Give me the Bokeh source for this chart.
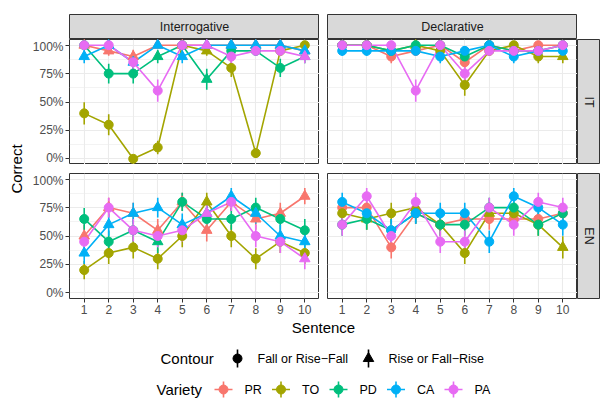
import math
from bokeh.plotting import figure
from bokeh.layouts import row, column
from bokeh.models import Range1d, FixedTicker, PrintfTickFormatter, Spacer, ColumnDataSource
from bokeh.core.properties import value
from bokeh.embed import file_html
from bokeh.resources import INLINE

# ---------------- data ----------------
SENTENCES = list(range(1, 11))
VARIETIES = ["PR", "TO", "PD", "CA", "PA"]
COLORS = ["#F8766D", "#A3A500", "#00BF7D", "#00B0F6", "#E76BF3"]
SENTENCE_TYPES = ["Interrogative", "Declarative"]
LANGUAGES = ["IT", "EN"]
CONTOUR_LABELS = ["Fall or Rise\u2212Fall", "Rise or Fall\u2212Rise"]
CONTOUR_CODES = ["F", "R"]
N_RESP = 25  # responses per cell, used for standard-error bars

# percent correct, per sentence 1..10 ; contour code per sentence (F = fall, R = rise)
IT_INT_PR = [100, 95, 90, 100, 100, 100, 100, 100, 100, 95]
IT_INT_PR_C = "RRRRRRRRRR"
IT_INT_TO = [40, 30, 0, 10, 100, 95, 80, 5, 95, 100]
IT_INT_TO_C = "FFFFFRFFFF"
IT_INT_PD = [100, 75, 75, 90, 100, 70, 95, 95, 80, 90]
IT_INT_PD_C = "FFFRFRFFFR"
IT_INT_CA = [90, 100, 85, 100, 90, 100, 100, 100, 100, 95]
IT_INT_CA_C = "RRRRRRRRRR"
IT_INT_PA = [100, 100, 85, 60, 100, 100, 90, 95, 95, 90]
IT_INT_PA_C = "FFFFFRFFFR"

IT_DEC_PR = [100, 100, 90, 95, 100, 85, 100, 95, 100, 100]
IT_DEC_PR_C = "FFFFFFFFFF"
IT_DEC_TO = [100, 100, 95, 100, 95, 65, 95, 100, 90, 90]
IT_DEC_TO_C = "FFFRFFFFFR"
IT_DEC_PD = [100, 100, 95, 100, 100, 90, 100, 95, 95, 100]
IT_DEC_PD_C = "FFFFFFFFFF"
IT_DEC_CA = [95, 95, 95, 95, 90, 95, 100, 90, 95, 95]
IT_DEC_CA_C = "FFFFFFFFFF"
IT_DEC_PA = [100, 100, 100, 60, 100, 75, 95, 95, 95, 100]
IT_DEC_PA_C = "FFFFFFFFFF"

EN_INT_PR = [50, 75, 70, 55, 80, 55, 80, 65, 70, 85]
EN_INT_PR_C = "RRRRRRRRRR"
EN_INT_TO = [20, 35, 40, 30, 50, 80, 50, 30, 45, 35]
EN_INT_TO_C = "FFFFFRFFFF"
EN_INT_PD = [65, 45, 55, 45, 80, 65, 65, 75, 65, 55]
EN_INT_PD_C = "FFFRFFFFFF"
EN_INT_CA = [35, 60, 70, 75, 60, 70, 85, 70, 50, 45]
EN_INT_CA_C = "RRRRRRRRRR"
EN_INT_PA = [45, 75, 55, 50, 55, 70, 80, 50, 45, 30]
EN_INT_PA_C = "FFFFFRFFFR"

EN_DEC_PR = [75, 75, 40, 70, 60, 65, 65, 65, 65, 70]
EN_DEC_PR_C = "FFFFFFFFFF"
EN_DEC_TO = [70, 65, 70, 75, 60, 35, 70, 70, 60, 40]
EN_DEC_TO_C = "FRFRFFRFFR"
EN_DEC_PD = [60, 65, 55, 70, 60, 60, 75, 75, 60, 70]
EN_DEC_PD_C = "FFFFFFFFFF"
EN_DEC_CA = [80, 70, 55, 70, 70, 70, 45, 85, 75, 60]
EN_DEC_CA_C = "FFFFFFFFFF"
EN_DEC_PA = [60, 85, 50, 80, 45, 45, 75, 60, 80, 75]
EN_DEC_PA_C = "FFFFFFFFFF"

PANELS = {
    ("IT", "Interrogative"): [(IT_INT_PR, IT_INT_PR_C), (IT_INT_TO, IT_INT_TO_C), (IT_INT_PD, IT_INT_PD_C),
                              (IT_INT_CA, IT_INT_CA_C), (IT_INT_PA, IT_INT_PA_C)],
    ("IT", "Declarative"): [(IT_DEC_PR, IT_DEC_PR_C), (IT_DEC_TO, IT_DEC_TO_C), (IT_DEC_PD, IT_DEC_PD_C),
                            (IT_DEC_CA, IT_DEC_CA_C), (IT_DEC_PA, IT_DEC_PA_C)],
    ("EN", "Interrogative"): [(EN_INT_PR, EN_INT_PR_C), (EN_INT_TO, EN_INT_TO_C), (EN_INT_PD, EN_INT_PD_C),
                              (EN_INT_CA, EN_INT_CA_C), (EN_INT_PA, EN_INT_PA_C)],
    ("EN", "Declarative"): [(EN_DEC_PR, EN_DEC_PR_C), (EN_DEC_TO, EN_DEC_TO_C), (EN_DEC_PD, EN_DEC_PD_C),
                            (EN_DEC_CA, EN_DEC_CA_C), (EN_DEC_PA, EN_DEC_PA_C)],
}

Y_TICKS = [0, 25, 50, 75, 100]
Y_MINOR = [12.5, 37.5, 62.5, 87.5]

# ---------------- style ----------------
FONT_NAME = "Liberation Sans"
FONT = value(FONT_NAME)
MARKER = {"F": "circle", "R": "triangle"}
MSIZE = {"F": 9, "R": 10.5}
LW = 1.6
GRID = "#EBEBEB"
BORDER = "#333333"
STRIP_FILL = "#D9D9D9"
FRAME_W, FRAME_H = 250, 125
GAP_X, GAP_Y = 8, 9
LEFT_AXIS = 45
LABEL_COL = 24
STRIP_W = 23
STRIP_H = 25
TOP_PAD = 14
BOTTOM_AXIS = 22


def bare(width, height, xr, yr, **kw):
    p = figure(width=width, height=height, x_range=xr, y_range=yr, output_backend="svg",
               toolbar_location=None, x_axis_type=None, y_axis_type=None,
               min_border_left=0, min_border_right=0, min_border_top=0, min_border_bottom=0, **kw)
    p.grid.visible = False
    p.outline_line_color = None
    return p


def panel(key, show_x, show_y):
    width = FRAME_W + (LEFT_AXIS if show_y else GAP_X)
    height = FRAME_H + (BOTTOM_AXIS if show_x else 0)
    p = figure(width=width, height=height, x_range=Range1d(0.4, 10.6), y_range=Range1d(-5, 105),
               output_backend="svg", toolbar_location=None,
               min_border_left=(LEFT_AXIS if show_y else GAP_X), min_border_right=0,
               min_border_top=0, min_border_bottom=(BOTTOM_AXIS if show_x else 0))
    p.outline_line_color = BORDER
    p.outline_line_width = 1
    p.background_fill_color = "white"
    xt = FixedTicker(ticks=SENTENCES)
    yt = FixedTicker(ticks=Y_TICKS, minor_ticks=Y_MINOR)
    p.xaxis.ticker = xt
    p.yaxis.ticker = yt
    p.xgrid.ticker = xt
    p.ygrid.ticker = yt
    p.grid.grid_line_color = GRID
    p.grid.grid_line_width = 1.1
    p.ygrid.minor_grid_line_color = GRID
    p.ygrid.minor_grid_line_width = 0.6
    p.yaxis.formatter = PrintfTickFormatter(format="%d%%")
    for ax in (p.xaxis, p.yaxis):
        ax.axis_line_color = None
        ax.major_tick_line_color = BORDER
        ax.major_tick_in = 0
        ax.major_tick_out = 4
        ax.minor_tick_line_color = None
        ax.major_label_text_font = FONT_NAME
        ax.major_label_text_font_size = "12px"
        ax.major_label_text_color = "#4D4D4D"
        ax.major_label_standoff = 2
    p.xaxis.visible = show_x
    p.yaxis.visible = show_y

    sources = []
    for (vals, codes) in PANELS[key]:
        codes = list(codes)
        se = [100 * math.sqrt((v / 100) * (1 - v / 100) / N_RESP) for v in vals]
        sources.append(ColumnDataSource(dict(
            x=SENTENCES, y=vals,
            lo=[max(0, v - s) for v, s in zip(vals, se)],
            hi=[min(100, v + s) for v, s in zip(vals, se)],
            marker=[MARKER[c] for c in codes],
            size=[MSIZE[c] for c in codes],
        )))
    for src, col in zip(sources, COLORS):
        p.line("x", "y", source=src, line_color=col, line_width=LW)
    for src, col in zip(sources, COLORS):
        p.segment(x0="x", y0="lo", x1="x", y1="hi", source=src, line_color=col, line_width=LW)
    for src, col in zip(sources, COLORS):
        p.scatter("x", "y", source=src, marker="marker", size="size", fill_color=col, line_color=col)
    return p


def strip_top(text, left):
    p = bare(FRAME_W + left, STRIP_H + TOP_PAD, Range1d(0, 1), Range1d(0, 1))
    p.min_border_top = TOP_PAD
    p.min_border_left = left
    p.background_fill_color = STRIP_FILL
    p.outline_line_color = BORDER
    p.text(x=[0.5], y=[0.5], text=[text], text_align="center", text_baseline="middle",
           text_font=FONT, text_font_size="12.5px", text_color="#1A1A1A")
    return p


def strip_right(text, bottom):
    p = bare(STRIP_W, FRAME_H + bottom, Range1d(0, 1), Range1d(0, 1))
    p.min_border_bottom = bottom
    p.background_fill_color = STRIP_FILL
    p.outline_line_color = BORDER
    p.text(x=[0.5], y=[0.5], text=[text], angle=-math.pi / 2, text_align="center",
           text_baseline="middle", text_font=FONT, text_font_size="12.5px", text_color="#1A1A1A")
    return p


# ---------------- layout ----------------
tl = panel(("IT", "Interrogative"), show_x=False, show_y=True)
tr = panel(("IT", "Declarative"), show_x=False, show_y=False)
bl = panel(("EN", "Interrogative"), show_x=True, show_y=True)
br = panel(("EN", "Declarative"), show_x=True, show_y=False)

s_int = strip_top(SENTENCE_TYPES[0], 0)
s_dec = strip_top(SENTENCE_TYPES[1], GAP_X)
s_it = strip_right(LANGUAGES[0], 0)
s_en = strip_right(LANGUAGES[1], BOTTOM_AXIS)

body_h = FRAME_H * 2 + GAP_Y + BOTTOM_AXIS
ylab = bare(LABEL_COL, body_h, Range1d(0, LABEL_COL), Range1d(body_h, 0))
ylab.text(x=[LABEL_COL / 2 + 4], y=[(2 * FRAME_H + GAP_Y) / 2], text=["Correct"], angle=math.pi / 2,
          text_align="center", text_baseline="middle", text_font=FONT, text_font_size="15px",
          text_color="black")

top_h = STRIP_H + TOP_PAD
leg_h = 398 - top_h - body_h
leg = bare(600, leg_h, Range1d(0, 600), Range1d(leg_h, 0))
frame_left = LABEL_COL + LEFT_AXIS
frame_right = frame_left + 2 * FRAME_W + GAP_X
leg.text(x=[(frame_left + frame_right) / 2], y=[7], text=["Sentence"], text_align="center",
         text_baseline="middle", text_font=FONT, text_font_size="15px", text_color="black")

# contour legend
CY = 38
leg.text(x=[160], y=[CY], text=["Contour"], text_align="left", text_baseline="middle",
         text_font=FONT, text_font_size="15px", text_color="black")
ckx = [237, 368]
leg.segment(x0=ckx, y0=[CY - 9] * 2, x1=ckx, y1=[CY + 9] * 2, line_color="black", line_width=LW)
leg.scatter(x=ckx, y=[CY] * 2, marker=[MARKER[c] for c in CONTOUR_CODES],
            size=[MSIZE[c] for c in CONTOUR_CODES], color="black")
leg.text(x=[k + 20 for k in ckx], y=[CY] * 2, text=CONTOUR_LABELS, text_align="left",
         text_baseline="middle", text_font=FONT, text_font_size="12.5px", text_color="black")

# variety legend
VY = 69
leg.text(x=[156], y=[VY], text=["Variety"], text_align="left", text_baseline="middle",
         text_font=FONT, text_font_size="15px", text_color="black")
vkx = [223 + 57.5 * i for i in range(len(VARIETIES))]
leg.segment(x0=[k - 9 for k in vkx], y0=[VY] * 5, x1=[k + 9 for k in vkx], y1=[VY] * 5,
            line_color=COLORS, line_width=LW)
leg.segment(x0=vkx, y0=[VY - 8] * 5, x1=vkx, y1=[VY + 8] * 5, line_color=COLORS, line_width=LW)
leg.scatter(x=vkx, y=[VY] * 5, marker="circle", size=9, color=COLORS)
leg.text(x=[k + 21 for k in vkx], y=[VY] * 5, text=VARIETIES, text_align="left",
         text_baseline="middle", text_font=FONT, text_font_size="12.5px", text_color="black")

layout = column(
    row(Spacer(width=LABEL_COL + LEFT_AXIS, height=top_h), s_int, s_dec),
    row(ylab, column(row(tl, tr, s_it), Spacer(width=10, height=GAP_Y), row(bl, br, s_en))),
    leg,
)

open("out.html", "w").write(file_html(layout, INLINE))
